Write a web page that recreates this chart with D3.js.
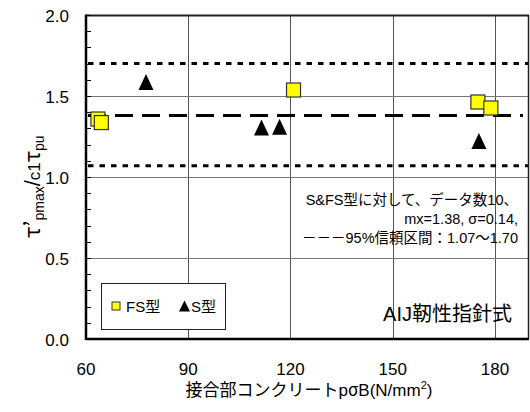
<!DOCTYPE html>
<html>
<head>
<meta charset="UTF-8">
<script src="https://d3js.org/d3.v7.min.js"></script>
<style>
  body { margin: 0; background: #fff; }
  text { font-family: "Liberation Sans", Arial, "Noto Sans CJK JP", sans-serif; fill: #000; }
</style>
</head>
<body>
<svg id="canvas"></svg>
<script>
width = 530;
height = 412;

// data
fsX = [63.5, 64.5, 120.9, 175.0, 178.8];
fsY = [1.358, 1.336, 1.537, 1.463, 1.426];
sX = [77.6, 111.5, 116.8, 175.3];
sY = [1.586, 1.305, 1.31, 1.222];
meanLine = [1.38];
bandLines = [1.07, 1.70];
xTicks = [60, 90, 120, 150, 180];
yTicks = [0.0, 0.5, 1.0, 1.5, 2.0];
yMinor = d3.range(0, 2.0001, 0.1);

canvas = d3.select("#canvas").attr("width", width).attr("height", height);

x = d3.scaleLinear().domain([60, 190]).range([86, 529]);
y = d3.scaleLinear().domain([0, 2]).range([339, 15]);

// grid
canvas.selectAll(".vgrid").data(xTicks.slice(1))
  .enter().append("line")
  .attr("x1", d => Math.round(x(d)) + 0.5).attr("x2", d => Math.round(x(d)) + 0.5)
  .attr("y1", y(2)).attr("y2", y(0))
  .attr("stroke", "#555").attr("stroke-width", 1);
canvas.selectAll(".hgrid").data([0.5, 1.0, 1.5])
  .enter().append("line")
  .attr("x1", x(60)).attr("x2", x(190))
  .attr("y1", d => Math.round(y(d)) + 0.5).attr("y2", d => Math.round(y(d)) + 0.5)
  .attr("stroke", "#777").attr("stroke-width", 1);

// reference lines
canvas.selectAll(".mean").data(meanLine)
  .enter().append("line")
  .attr("x1", x(60) + 2).attr("x2", x(190) - 6)
  .attr("y1", d => y(d)).attr("y2", d => y(d))
  .attr("stroke", "#000").attr("stroke-width", 3)
  .attr("stroke-dasharray", "18,9");
canvas.selectAll(".band").data(bandLines)
  .enter().append("line")
  .attr("x1", x(60) + 2).attr("x2", x(190))
  .attr("y1", d => y(d)).attr("y2", d => y(d))
  .attr("stroke", "#000").attr("stroke-width", 3)
  .attr("stroke-dasharray", "5.5,6");

// frame
canvas.append("line").attr("x1", x(60)).attr("x2", x(190)).attr("y1", y(2) + 0.5).attr("y2", y(2) + 0.5)
  .attr("stroke", "#222").attr("stroke-width", 2);
canvas.append("line").attr("x1", x(190) - 0.5).attr("x2", x(190) - 0.5).attr("y1", y(2)).attr("y2", y(0))
  .attr("stroke", "#222").attr("stroke-width", 1.5);

// y axis with inward minor ticks
canvas.selectAll(".ytick").data(yMinor)
  .enter().append("line")
  .attr("x1", x(60)).attr("x2", x(60) + 5)
  .attr("y1", d => Math.round(y(d)) + 0.5).attr("y2", d => Math.round(y(d)) + 0.5)
  .attr("stroke", "#000").attr("stroke-width", 1);
canvas.append("line").attr("x1", x(60)).attr("x2", x(60)).attr("y1", y(2) - 0.5).attr("y2", y(0) + 1)
  .attr("stroke", "#000").attr("stroke-width", 2.5);
canvas.append("line").attr("x1", x(60)).attr("x2", x(190)).attr("y1", y(0)).attr("y2", y(0))
  .attr("stroke", "#000").attr("stroke-width", 2.5);

canvas.selectAll(".ylab").data(yTicks)
  .enter().append("text")
  .attr("x", 69).attr("y", d => y(d) + 7)
  .attr("text-anchor", "end").attr("font-size", 17)
  .text(d => d.toFixed(1));
canvas.selectAll(".xlab").data(xTicks)
  .enter().append("text")
  .attr("x", d => x(d)).attr("y", 375)
  .attr("text-anchor", "middle").attr("font-size", 17)
  .text(d => d);

// axis titles
xt = canvas.append("text").attr("x", 309).attr("y", 396)
  .attr("text-anchor", "middle").attr("font-size", 17);
xt.append("tspan").text("接合部コンクリートp");
xt.append("tspan").attr("font-family", "Noto Sans CJK JP").text("σ");
xt.append("tspan").text("B(N/mm");
xt.append("tspan").attr("font-size", 11).attr("dy", -7).text("2");
xt.append("tspan").attr("dy", 7).text(")");

yt = canvas.append("text").attr("transform", "translate(40,238) rotate(-90)")
  .attr("text-anchor", "start").attr("font-size", 19);
yt.append("tspan").attr("font-family", "Noto Sans CJK JP").attr("font-size", 22).text("τ’");
yt.append("tspan").attr("font-size", 14).attr("dy", 4).text("pmax");
yt.append("tspan").attr("dy", -4).attr("font-size", 22).text("/");
yt.append("tspan").attr("font-size", 17).text("c1");
yt.append("tspan").attr("font-family", "Noto Sans CJK JP").attr("font-size", 22).text("τ");
yt.append("tspan").attr("font-size", 14).attr("dy", 4).text("pu");

// points
fsData = fsX.map((v, i) => [v, fsY[i]]);
sData = sX.map((v, i) => [v, sY[i]]);
canvas.selectAll(".fs").data(fsData)
  .enter().append("rect")
  .attr("x", d => x(d[0]) - 7).attr("y", d => y(d[1]) - 7)
  .attr("width", 14).attr("height", 14)
  .attr("fill", "#ffff00").attr("stroke", "#333").attr("stroke-width", 1.2);
tri = (cx, cy, w, h) => "M" + cx + "," + (cy - h / 2) + "L" + (cx + w / 2) + "," + (cy + h / 2) + "L" + (cx - w / 2) + "," + (cy + h / 2) + "Z";
canvas.selectAll(".s").data(sData)
  .enter().append("path")
  .attr("d", d => tri(x(d[0]), y(d[1]), 15, 16))
  .attr("fill", "#000");

// annotation
note = ["S&FS型に対して、データ数10、", "mx=1.38,  σ=0.14,", "－－－95%信頼区間：1.07～1.70"];
canvas.selectAll(".note").data(note)
  .enter().append("text")
  .attr("x", 518).attr("y", (d, i) => 205 + i * 19)
  .attr("text-anchor", "end").attr("font-size", 14.5)
  .text(d => d);
canvas.append("text").attr("x", 512).attr("y", 321)
  .attr("text-anchor", "end").attr("font-size", 20)
  .text("AIJ靭性指針式");

// legend
legend = canvas.append("g");
legend.append("rect").attr("x", 101.5).attr("y", 283.5).attr("width", 124).attr("height", 46)
  .attr("fill", "#fff").attr("stroke", "#222").attr("stroke-width", 1);
legend.append("rect").attr("x", 112).attr("y", 302).attr("width", 8).attr("height", 8)
  .attr("fill", "#ffff00").attr("stroke", "#333").attr("stroke-width", 1);
legend.append("text").attr("x", 126).attr("y", 312).attr("font-size", 15).text("FS型");
legend.append("path").attr("d", tri(184.5, 306, 11, 11)).attr("fill", "#000");
legend.append("text").attr("x", 191).attr("y", 312).attr("font-size", 15).text("S型");
</script>
</body>
</html>
